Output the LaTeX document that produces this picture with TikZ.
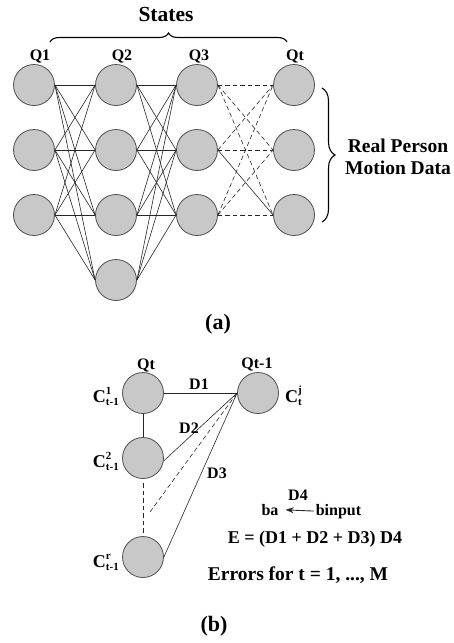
\documentclass[tikz,border=0pt]{standalone}
\usepackage{fontspec}
\setmainfont{Liberation Serif}
\usetikzlibrary{decorations.pathreplacing,arrows.meta}
\definecolor{nodegray}{RGB}{200,200,200}
\definecolor{edgegray}{RGB}{80,80,80}
\newcommand\fsz[1]{\fontsize{#1}{#1}\selectfont\bfseries}
\newcommand\clab[2]{C\raisebox{-3pt}{\fsz{11}\shortstack[l]{#1\\#2}}}
\begin{document}
\begin{tikzpicture}[x=1pt,y=-1pt,
  st/.style={circle,fill=nodegray,draw=edgegray,line width=0.8pt,minimum size=41pt,inner sep=0pt},
  lnk/.style={line width=0.6pt,draw=black!85},
  dlnk/.style={lnk,dash pattern=on 4.5pt off 3pt},
  lbl/.style={font=\fsz{16},inner sep=0pt},
  big/.style={font=\fsz{19.5},inner sep=0pt},
  clbl/.style={font=\fsz{18},inner sep=0pt},
  brc/.style={decorate,line width=1.1pt}]
\useasboundingbox (0,0) rectangle (454,643);
% ---------- (a) ----------
\foreach \r/\y in {1/85,2/150,3/215}{
  \node[st] (a\r) at (34,\y) {};
  \node[st] (c\r) at (197,\y) {};
  \node[st] (d\r) at (294,\y) {};
}
\foreach \r/\y in {1/85,2/150,3/215,4/280}
  \node[st] (b\r) at (116,\y) {};
\foreach \i in {1,2,3} \foreach \j in {1,2,3,4}
  \draw[lnk] (a\i.east) -- (b\j.west);
\foreach \i in {1,2,3,4} \foreach \j in {1,2,3}
  \draw[lnk] (b\i.east) -- (c\j.west);
\foreach \i/\j in {1/1,1/2,1/3,2/1,2/2,3/1,3/2,3/3}
  \draw[dlnk] (c\i.east) -- (d\j.west);
\draw[lnk] (c2.east) -- (d3.west);
\node[lbl,anchor=base] (q1) at (40,60) {Q1};
\node[lbl,anchor=base] (q2) at (122,60) {Q2};
\node[lbl,anchor=base] (q3) at (199,60) {Q3};
\node[lbl,anchor=base] (qt) at (295,60) {Qt};
\node[big,anchor=base,font=\fsz{21.5}] (states) at (166,21) {States};
\coordinate (tb1) at (50,42);
\coordinate (tb2) at (287,42);
\draw[brc,decoration={brace,amplitude=9pt}] (tb1) -- (tb2);
\coordinate (rb1) at (322,88);
\coordinate (rb2) at (322,222);
\draw[brc,decoration={brace,amplitude=13pt}] (rb1) -- (rb2);
\node[big,anchor=base] (rp) at (398,152) {Real Person};
\node[big,anchor=base] (md) at (398,174) {Motion Data};
\node[big,anchor=base,font=\fsz{22}] (la) at (218,329) {(a)};
% ---------- (b) ----------
\node[st] (p1) at (143,393) {};
\node[st] (pq) at (258,393) {};
\node[st] (p2) at (143,458) {};
\node[st] (pr) at (143,557) {};
\draw[lnk] (p1.east) -- (pq.west);
\draw[lnk] (p1.south) -- (p2.north);
\draw[lnk] (p2.-8) -- (pq.west);
\coordinate (dd) at (150,512);
\draw[dlnk] (dd) -- (pq.west);
\coordinate (v1) at (143,483);
\coordinate (v2) at (143,533);
\draw[dlnk] (v1) -- (v2);
\draw[lnk] (pr.east) -- (pq.west);
\node[lbl,anchor=base] (lqt) at (146,369) {Qt};
\node[lbl,anchor=base] (lqt1) at (257,368) {Qt-1};
\node[lbl,anchor=base] (d1) at (199,389) {D1};
\node[lbl,anchor=base] (d2) at (189,433) {D2};
\node[lbl,anchor=base] (d3) at (217,478) {D3};
\node[clbl,anchor=base east] (c1l) at (119,402) {\clab{1}{t-1}};
\node[clbl,anchor=base east] (c2l) at (119,467) {\clab{2}{t-1}};
\node[clbl,anchor=base east] (crl) at (119,567) {\clab{r}{t-1}};
\node[clbl,anchor=base west] (cjl) at (285,402) {\clab{j}{t}};
\node[lbl,anchor=base] (d4) at (298,500) {D4};
\node[lbl,anchor=base] (ba) at (270,515) {ba};
\node[lbl,anchor=base] (bin) at (338.5,515) {binput};
\draw[lnk,line width=0.9pt,-{Stealth[length=8pt,width=6pt]},shorten <=2pt,shorten >=7pt] (bin.west) -- (ba.east);
\node[big,anchor=base,font=\fsz{18}] (eq) at (315,543) {E = (D1 + D2 + D3) D4};
\node[big,anchor=base] (err) at (298,580) {Errors for t = 1, ..., M};
\node[big,anchor=base,font=\fsz{22}] (lb) at (214,631) {(b)};
\end{tikzpicture}
\end{document}
